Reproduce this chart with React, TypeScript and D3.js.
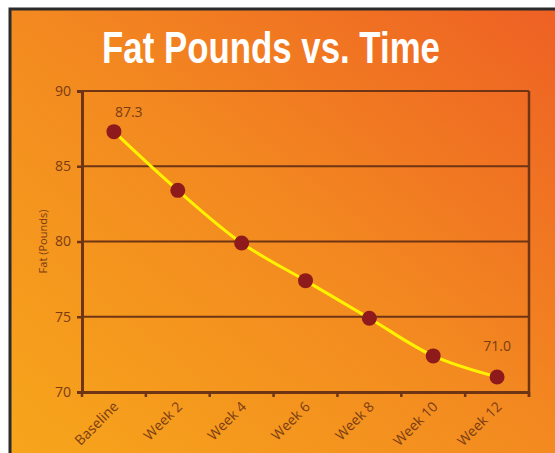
import React, { useRef, useEffect } from 'react';
import * as d3 from 'd3';

const categories = ['Baseline', 'Week 2', 'Week 4', 'Week 6', 'Week 8', 'Week 10', 'Week 12'];
const fatPounds = [87.3, 83.4, 79.9, 77.4, 74.9, 72.4, 71.0];
const yTicks = [70, 75, 80, 85, 90];

const W = 555;
const H = 453;

const App = () => {
  const svgRef = useRef<SVGSVGElement>(null);

  useEffect(() => {
    const svg = d3.select(svgRef.current);
    svg.selectAll('*').remove();

    const plot = { left: 82, right: 529, top: 91, bottom: 392 };
    const brown = '#6e3414';
    const labelColor = '#7a3c14';

    // background panel
    const defs = svg.append('defs');
    const grad = defs.append('linearGradient')
      .attr('id', 'bg')
      .attr('x1', '0%').attr('y1', '100%')
      .attr('x2', '100%').attr('y2', '0%');
    grad.append('stop').attr('offset', '0%').attr('stop-color', '#f7a61b');
    grad.append('stop').attr('offset', '50%').attr('stop-color', '#f38a20');
    grad.append('stop').attr('offset', '100%').attr('stop-color', '#ee6024');

    svg.append('rect').attr('width', W).attr('height', H).attr('fill', '#fff');
    svg.append('rect')
      .attr('x', 10).attr('y', 9)
      .attr('width', W).attr('height', H)
      .attr('fill', 'url(#bg)')
      .attr('stroke', '#2b2b2b')
      .attr('stroke-width', 3);

    // title
    svg.append('text')
      .attr('x', 271).attr('y', 63)
      .attr('text-anchor', 'middle')
      .attr('fill', '#fff')
      .style('font-family', '"Liberation Sans Narrow", "Liberation Sans", Arial, sans-serif')
      .style('font-weight', 700)
      .style('font-size', '44px')
      .attr('textLength', 338)
      .attr('lengthAdjust', 'spacingAndGlyphs')
      .text('Fat Pounds vs. Time');

    const x = d3.scaleBand().domain(categories).range([plot.left, plot.right]);
    const y = d3.scaleLinear().domain([70, 90]).range([plot.bottom, plot.top]);

    const g = svg.append('g');

    // gridlines
    g.selectAll('.grid')
      .data(yTicks.filter(t => t > 70))
      .enter()
      .append('line')
      .attr('x1', plot.left).attr('x2', plot.right)
      .attr('y1', d => y(d)).attr('y2', d => y(d))
      .attr('stroke', brown)
      .attr('stroke-width', 2);

    // right border
    g.append('line')
      .attr('x1', plot.right).attr('x2', plot.right)
      .attr('y1', plot.top).attr('y2', plot.bottom + 5)
      .attr('stroke', brown).attr('stroke-width', 2.5);

    // y axis
    const yAxis = g.append('g')
      .attr('transform', `translate(${plot.left},0)`)
      .call(d3.axisLeft(y).tickValues(yTicks).tickSize(5).tickPadding(6));
    yAxis.select('.domain').attr('stroke', brown).attr('stroke-width', 3);
    yAxis.selectAll('.tick line').attr('stroke', brown).attr('stroke-width', 2.5);
    yAxis.selectAll('.tick text')
      .attr('fill', labelColor)
      .style('font-family', '"Open Sans", sans-serif')
      .style('font-size', '14px');

    // x axis
    const xAxis = g.append('g')
      .attr('transform', `translate(0,${plot.bottom})`)
      .call(d3.axisBottom(x).tickSize(0).tickFormat(() => ''));
    xAxis.select('.domain').attr('stroke', brown).attr('stroke-width', 3);

    const edges = categories.map(c => x(c) as number).concat([plot.right]);
    g.selectAll('.xtick')
      .data(edges)
      .enter()
      .append('line')
      .attr('x1', d => d).attr('x2', d => d)
      .attr('y1', plot.bottom).attr('y2', plot.bottom + 5)
      .attr('stroke', brown).attr('stroke-width', 2.5);

    g.selectAll('.xlabel')
      .data(categories)
      .enter()
      .append('text')
      .attr('transform', d => `translate(${(x(d) as number) + x.bandwidth() / 2 + 2},${plot.bottom + 12}) rotate(-45)`)
      .attr('text-anchor', 'end')
      .attr('dy', '0.35em')
      .attr('fill', labelColor)
      .style('font-family', '"Open Sans", sans-serif')
      .style('font-size', '14px')
      .text(d => d);

    // y axis title
    g.append('text')
      .attr('transform', `translate(47,${(plot.top + plot.bottom) / 2}) rotate(-90)`)
      .attr('text-anchor', 'middle')
      .attr('fill', labelColor)
      .style('font-family', '"Open Sans", sans-serif')
      .style('font-size', '11px')
      .text('Fat (Pounds)');

    const cx = (i: number) => (x(categories[i]) as number) + x.bandwidth() / 2;

    // line
    const line = d3.line<number>()
      .x((d, i) => cx(i))
      .y(d => y(d))
      .curve(d3.curveCatmullRom.alpha(0.5));
    g.append('path')
      .attr('d', line(fatPounds))
      .attr('fill', 'none')
      .attr('stroke', '#fff200')
      .attr('stroke-width', 3);

    // points
    g.selectAll('.pt')
      .data(fatPounds)
      .enter()
      .append('circle')
      .attr('cx', (d, i) => cx(i))
      .attr('cy', d => y(d))
      .attr('r', 7.5)
      .attr('fill', '#8e1a1c');

    // value labels (first and last)
    const last = fatPounds.length - 1;
    g.append('text')
      .attr('x', cx(0) + 1).attr('y', y(fatPounds[0]) - 15)
      .attr('fill', labelColor)
      .style('font-family', '"Open Sans", sans-serif')
      .style('font-size', '14px')
      .text(fatPounds[0].toFixed(1));
    g.append('text')
      .attr('x', cx(last)).attr('y', y(fatPounds[last]) - 26)
      .attr('text-anchor', 'middle')
      .attr('fill', labelColor)
      .style('font-family', '"Open Sans", sans-serif')
      .style('font-size', '14px')
      .text(fatPounds[last].toFixed(1));
  }, []);

  return (
    <svg ref={svgRef} width={W} height={H} style={{ position: 'fixed', left: 0, top: 0, display: 'block' }}></svg>
  );
};

export default App;
